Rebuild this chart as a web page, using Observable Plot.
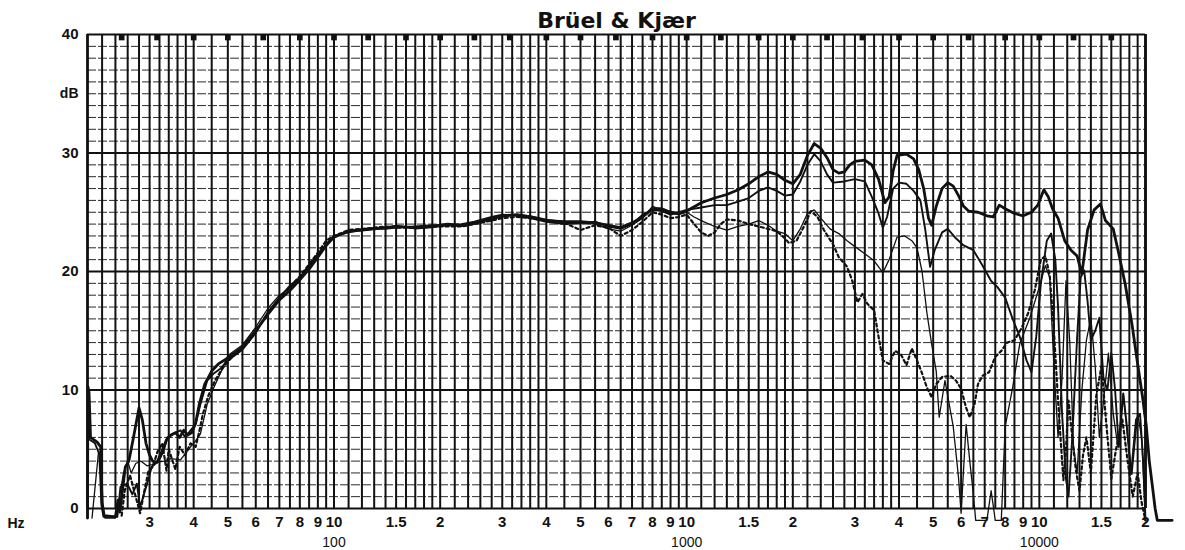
<!DOCTYPE html>
<html>
<head>
<meta charset="utf-8">
<script src="https://cdn.jsdelivr.net/npm/d3@7"></script>
<script src="https://cdn.jsdelivr.net/npm/@observablehq/plot@0.6"></script>
<style>
  html, body { margin: 0; padding: 0; background: #ffffff; }
  #chart svg { display: block; }
</style>
</head>
<body>
<div id="chart"></div>
<script>
// ---- Axis / grid values ----
const titleText = "Brüel & Kjær";
const yTicks = [0, 10, 20, 30, 40];
const yMinor = [1,2,3,4,5,6,7,8,9,11,12,13,14,15,16,17,18,19,21,22,23,24,25,26,27,28,29,31,32,33,34,35,36,37,38,39];
const gridMantissas = [1.0,1.1,1.2,1.3,1.4,1.5,1.6,1.7,1.8,1.9,2.0,2.2,2.4,2.6,2.8,3.0,3.2,3.4,3.6,3.8,4.0,4.5,5.0,5.5,6.0,6.5,7.0,7.5,8.0,8.5,9.0,9.5];
const gridDecades = [10, 100, 1000, 10000];
const xTickFreqs = [30,40,50,60,70,80,90,100,150,200,300,400,500,600,700,800,900,1000,1500,2000,3000,4000,5000,6000,7000,8000,9000,10000,15000,20000];
const xTickLabels = ["3","4","5","6","7","8","9","10","1.5","2","3","4","5","6","7","8","9","10","1.5","2","3","4","5","6","7","8","9","10","1.5","2"];
const decadeFreqs = [100, 1000, 10000];
const decadeLabels = ["100", "1000", "10000"];
const markerFreqs = [25,31.5,40,50,63,80,100,125,160,200,250,315,400,500,630,800,1000,1250,1600,2000,2500,3150,4000,5000,6300,8000,10000,12500,16000];

// ---- Series: [frequency Hz, level dB] ----
const seriesThick = [
  [20,-0.8],[20.05,10.3],[20.2,9.8],[20.4,6.0],[21.3,5.6],[21.8,5.2],[22.0,0.5],[22.3,-0.6],[24.0,-0.7],[24.4,0.7],[24.7,-0.3],
  [25.6,3.5],[26.2,4.0],[27.0,6.0],[28.0,8.5],[28.6,7.5],[29.3,5.5],[30.0,4.5],[30.6,4.0],[31.5,3.9],[32.5,4.8],[33.5,5.8],
  [34.5,6.2],[35.5,6.4],[36.5,6.0],[37.5,6.6],[38.5,6.2],[39.5,6.4],[40.5,7.2],[41.5,8.8],[43,10.5],[45,11.6],[47,12.2],
  [50,12.7],[55,13.6],[60,15.0],[65,16.4],[70,17.6],[75,18.4],[80,19.3],[85,20.2],[90,21.2],[95,22.2],[100,22.9],[110,23.4],
  [120,23.5],[130,23.6],[140,23.7],[150,23.8],[170,23.7],[190,23.8],[210,24.0],[230,23.9],[250,24.1],[280,24.5],[300,24.7],
  [330,24.8],[360,24.6],[400,24.3],[450,24.2],[500,24.2],[550,24.1],[600,23.9],[650,23.7],[700,24.1],[750,24.6],[800,25.3],
  [850,25.3],[900,25.0],[950,24.9],[1000,25.1],[1100,25.8],[1200,26.2],[1300,26.5],[1400,26.9],[1500,27.4],[1600,28.0],
  [1700,28.4],[1800,28.2],[1900,27.7],[2000,27.4],[2100,28.2],[2200,29.8],[2300,30.8],[2400,30.4],[2500,29.6],[2600,28.6],
  [2700,28.3],[2800,28.4],[2900,29.0],[3000,29.3],[3200,29.4],[3350,29.0],[3500,27.8],[3650,25.8],[3750,26.3],[3850,28.5],
  [3950,29.8],[4200,29.9],[4400,29.5],[4550,28.6],[4700,27.0],[4850,24.5],[4950,23.9],[5100,25.5],[5300,27.0],[5500,27.5],
  [5700,27.2],[5900,26.4],[6100,25.5],[6300,25.1],[6700,25.0],[7100,24.7],[7400,24.6],[7700,25.6],[8000,25.3],[8500,24.9],
  [9000,24.7],[9500,25.0],[9900,25.6],[10300,26.9],[10600,26.3],[10900,25.3],[11300,24.5],[11800,22.6],[12300,21.8],
  [12800,21.3],[13200,19.8],[13700,23.5],[14300,25.2],[14900,25.7],[15400,24.3],[16200,23.6],[16800,21.5],[17500,19.0],
  [18300,15.6],[19000,12.2],[19600,9.5],[20100,7.0],[20500,4.0],[20900,2.0],[21300,0],[21600,-1],[23800,-1]
];
const seriesMedium = [
  [20,-0.8],[20.1,9.5],[20.3,5.8],[21.0,5.5],[21.6,4.6],[21.9,0.3],[22.2,-0.7],[24.3,-0.7],[24.8,1.8],[25.9,2.1],[26.8,1.2],
  [27.6,2.1],[28.2,0.1],[28.9,1.2],[29.8,2.5],[30.4,3.5],[31.5,3.9],[32.2,4.3],[32.9,4.9],[33.7,6.0],[35.5,6.4],[36.7,6.6],
  [37.9,6.0],[39.2,6.6],[40.5,7.1],[41.8,8.8],[43.7,10.8],[45.6,11.4],[47.6,11.8],[50,12.5],[55,13.4],[60,14.8],[65,16.6],
  [70,17.8],[75,18.8],[80,19.5],[85,20.5],[90,21.4],[95,22.3],[100,23.0],[110,23.3],[120,23.5],[130,23.6],[140,23.6],
  [150,23.7],[170,23.8],[190,23.9],[210,23.9],[230,24.0],[250,24.2],[280,24.6],[300,24.8],[330,24.7],[360,24.5],[400,24.2],
  [450,24.0],[500,24.1],[550,24.2],[600,23.8],[650,23.6],[700,24.0],[750,24.8],[800,25.2],[850,25.1],[900,24.8],[950,25.0],
  [1000,25.2],[1100,25.4],[1200,25.6],[1300,25.6],[1400,25.9],[1500,26.2],[1600,26.8],[1700,27.1],[1800,26.8],[1900,26.4],
  [2000,26.5],[2100,27.6],[2200,29.0],[2300,29.9],[2400,29.3],[2500,28.2],[2600,27.5],[2800,27.6],[3000,27.8],[3200,27.6],
  [3350,26.3],[3500,24.9],[3600,23.7],[3700,24.6],[3850,27.0],[4000,27.5],[4200,27.4],[4400,26.8],[4600,26.0],[4750,23.5],
  [4900,20.4],[5050,21.8],[5300,23.3],[5500,23.6],[5800,22.8],[6100,22.2],[6500,21.8],[6900,20.5],[7300,19.2],[7600,18.7],
  [8000,17.8],[8400,16.0],[8800,14.5],[9200,12.5],[9500,11.5],[9800,14.5],[10100,19.0],[10500,22.6],[10800,23.2],
  [11100,21.0],[11300,17.0],[11600,8.0],[11900,2.5],[12100,1.0],[12400,6.0],[12800,14.5],[13100,19.5],[13400,20.1],
  [13700,17.5],[14000,14.2],[14400,15.0],[14800,16.1],[15200,11.0],[15600,10.0],[16000,13.1],[16400,10.0],[16800,5.2],
  [17300,9.7],[17700,7.0],[18200,2.9],[18800,7.5],[19300,8.0],[19700,4.0],[20000,-1]
];
const seriesThin = [
  [20.6,-0.8],[21.5,4.8],[21.9,4.6],[22.1,0],[22.4,-0.8],[24.0,-0.8],[24.5,0.5],[25.3,3.0],[26.0,4.0],[26.6,3.0],[27.4,3.8],
  [28.3,4.0],[29.5,3.6],[30.5,3.7],[31.5,3.9],[32.9,4.0],[34.5,4.2],[36.7,4.1],[39.2,5.2],[40.5,5.7],[41.8,6.3],[43.7,8.8],
  [45.6,10.2],[47.6,11.4],[50,12.9],[55,13.8],[60,15.3],[65,16.9],[70,18.0],[75,18.6],[80,19.4],[85,20.4],[90,21.5],
  [95,22.3],[100,22.9],[110,23.4],[120,23.6],[130,23.7],[140,23.7],[150,23.9],[170,23.6],[190,23.7],[210,23.9],[230,23.8],
  [250,24.0],[280,24.4],[300,24.6],[330,24.8],[360,24.7],[400,24.4],[450,24.2],[500,24.1],[550,24.0],[600,23.6],[650,23.4],
  [700,23.9],[750,24.5],[800,25.5],[850,25.2],[900,24.9],[950,24.8],[1000,25.0],[1050,24.6],[1100,24.3],[1200,23.8],
  [1300,23.5],[1400,23.8],[1500,24.0],[1600,24.3],[1700,23.9],[1800,23.4],[1900,23.2],[2000,22.6],[2100,23.6],[2200,24.9],
  [2300,25.2],[2400,24.5],[2550,23.6],[2700,23.2],[2850,22.6],[3000,22.1],[3200,21.5],[3400,20.9],[3600,19.9],[3750,21.0],
  [3950,22.9],[4150,23.0],[4350,22.6],[4500,22.0],[4650,20.0],[4800,16.5],[4950,13.9],[5100,11.6],[5200,7.7],[5400,10.8],
  [5700,6.9],[5900,2.6],[6000,-0.4],[6200,7.1],[6350,4.0],[6500,1.2],[6600,-1],[7100,-1],[7300,1.5],[7500,-1],[7800,-1],
  [8000,6.9],[8400,10.2],[8800,13.9],[9400,16.1],[10000,18.7],[10400,20.5],[10700,19.5],[11000,12.0],[11300,6.0],
  [11600,11.0],[11900,19.2],[12200,14.0],[12500,5.2],[12800,3.0],[13200,10.0],[13600,14.2],[14000,16.1],[14400,12.0],
  [14800,6.0],[15200,9.0],[15700,13.1],[16200,8.0],[16700,5.2],[17300,9.7],[17800,6.0],[18300,2.9],[19000,8.0],
  [19500,6.0],[20000,-1]
];
const seriesDotted = [
  [25.0,-0.6],[25.5,1.5],[26.4,2.8],[27.4,1.0],[28.2,-0.4],[29.0,1.5],[29.8,3.2],[30.6,3.5],[31.6,4.8],[32.6,5.5],[33.5,3.2],
  [34.0,5.0],[35.5,3.3],[36.5,5.2],[37.8,4.5],[39.2,5.5],[40.5,5.2],[41.5,6.5],[42.5,8.0],[44,9.5],[46,10.8],[48,11.7],
  [50,12.4],[55,13.7],[60,15.0],[65,16.5],[70,17.7],[75,18.7],[80,19.6],[85,20.6],[90,21.6],[95,22.6],[100,23.0],[110,23.5],
  [120,23.6],[130,23.7],[140,23.8],[150,23.7],[170,23.7],[190,23.8],[210,23.8],[230,23.8],[250,24.0],[280,24.3],[300,24.5],
  [330,24.6],[360,24.5],[400,24.3],[450,24.1],[500,23.5],[550,23.9],[600,23.7],[650,23.0],[700,23.5],[750,24.2],[800,25.0],
  [850,24.8],[900,24.5],[950,24.6],[1000,24.8],[1050,24.0],[1100,23.3],[1150,23.0],[1200,23.3],[1250,24.0],[1300,24.4],
  [1400,24.3],[1500,24.0],[1600,23.8],[1700,23.6],[1800,23.4],[1900,22.8],[1950,22.4],[2050,22.6],[2150,23.8],[2250,25.1],
  [2350,24.6],[2450,23.5],[2600,22.3],[2700,21.2],[2850,20.4],[2950,19.2],[3050,17.4],[3150,18.1],[3250,17.3],[3400,16.7],
  [3500,14.5],[3600,12.5],[3750,12.2],[3900,13.3],[4050,13.0],[4200,12.1],[4350,13.5],[4500,12.5],[4650,11.4],[4800,10.2],
  [4950,9.4],[5100,10.5],[5300,11.1],[5600,11.2],[5800,10.8],[6000,10.1],[6200,8.5],[6350,7.7],[6550,8.8],[6700,10.5],
  [6900,11.2],[7200,11.5],[7500,12.8],[7800,13.3],[8100,14.0],[8500,14.2],[8900,15.2],[9300,16.5],[9700,18.4],[10100,21.0],
  [10400,21.3],[10700,19.7],[11000,15.0],[11300,9.1],[11500,5.7],[11700,2.4],[11900,5.0],[12100,9.1],[12400,6.0],
  [12700,3.2],[13000,1.5],[13300,4.5],[13600,6.0],[14000,3.0],[14500,9.5],[15000,12.0],[15500,7.0],[16000,2.5],
  [16500,5.0],[17200,7.5],[17800,4.0],[18400,1.0],[19000,3.0],[19500,0.5],[20000,-1]
];

// ---- Derived tables for the library ----
const gridFreqs = gridDecades.flatMap(d => gridMantissas.map(m => +(m * d).toFixed(3)))
  .filter(f => f >= 20 && f <= 20000).concat([20000]);
const toRows = s => s.map(([f, db]) => ({f, db}));
const ink = "#111";
const font = "Liberation Sans, Arial, Helvetica, sans-serif";

const chart = Plot.plot({
  width: 1185,
  height: 550,
  marginLeft: 87,
  marginRight: 40,
  marginTop: 34,
  marginBottom: 42,
  style: {background: "#ffffff", fontFamily: font, overflow: "visible"},
  x: {type: "log", domain: [20, 20000], axis: null},
  y: {domain: [0, 40], axis: null},
  marks: [
    Plot.ruleY(yMinor, {stroke: "#2a2a2a", strokeWidth: 1, strokeDasharray: "9,2"}),
    Plot.ruleX(gridFreqs, {stroke: ink, strokeWidth: 2.0}),
    Plot.ruleY(yTicks, {stroke: ink, strokeWidth: 1.8}),
    Plot.ruleX([20, 20000], {stroke: ink, strokeWidth: 2.6}),
    Plot.dot(markerFreqs, {x: d => d, y: () => 40, symbol: "square", r: 3.2, dy: 3, fill: ink, stroke: "none"}),
    Plot.line(toRows(seriesDotted), {x: "f", y: "db", stroke: ink, strokeWidth: 2.2, strokeDasharray: "3,3"}),
    Plot.line(toRows(seriesThin), {x: "f", y: "db", stroke: ink, strokeWidth: 1.3}),
    Plot.line(toRows(seriesMedium), {x: "f", y: "db", stroke: ink, strokeWidth: 1.9}),
    Plot.line(toRows(seriesThick), {x: "f", y: "db", stroke: ink, strokeWidth: 2.8}),
    Plot.text(xTickFreqs, {x: d => d, y: () => 0, text: (d, i) => xTickLabels[i], dy: 14, fontSize: 15, fontWeight: "bold", fill: ink}),
    Plot.text(decadeFreqs, {x: d => d, y: () => 0, text: (d, i) => decadeLabels[i], dy: 34, fontSize: 14, fill: ink}),
    Plot.text(yTicks, {x: () => 20, y: d => d, text: d => String(d), dx: -9, textAnchor: "end", fontSize: 15, fontWeight: "bold", fill: ink}),
    Plot.text(["dB"], {x: () => 20, y: () => 35, text: d => d, dx: -9, textAnchor: "end", fontSize: 14, fontWeight: "bold", fill: ink}),
    Plot.text(["Hz"], {x: () => 20, y: () => 0, text: d => d, dx: -80, dy: 15, textAnchor: "start", fontSize: 14, fontWeight: "bold", fill: ink}),
    Plot.text([titleText], {frameAnchor: "top", text: d => d, lineAnchor: "bottom", dy: -7, fontSize: 22, fontWeight: "bold", fill: ink, fontFamily: "DejaVu Sans, sans-serif"})
  ]
});
document.getElementById("chart").appendChild(chart);
</script>
</body>
</html>
